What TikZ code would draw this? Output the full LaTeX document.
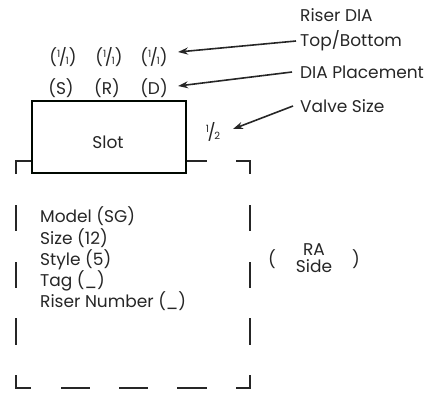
\documentclass[tikz,border=0pt]{standalone}
\usepackage{fontspec}
\setmainfont{Poppins}
\usetikzlibrary{arrows.meta}
\newcommand{\fr}[2]{\raisebox{0.36em}{\fontsize{10}{10}\selectfont #1}\kern-0.08em/\kern-0.08em\raisebox{-0.08em}{\fontsize{10}{10}\selectfont #2}}
\begin{document}
\begin{tikzpicture}[x=1pt,y=-1pt,
  txt/.style={inner sep=0pt,font=\fontsize{17}{19}\selectfont,text=black!85},
  dsh/.style={line width=2pt,draw=black!85},
  arr/.style={line width=1.6pt,draw=black!85,-{Stealth[length=10pt,width=7pt]}},
  box/.style={draw=black!85!green!20!black,line width=2pt,fill=white}]
\useasboundingbox (0,0) rectangle (442,392);
% dashed outline
\draw[dsh] (16,174)--(16,161)--(32,161);
\draw[dsh] (186,161)--(207,161);
\draw[dsh] (236,161)--(250,161)--(250,174);
\foreach \a/\b in {205/231,262/288,318/345}{
  \draw[dsh] (16,\a)--(16,\b);
  \draw[dsh] (250,\a)--(250,\b);}
\draw[dsh] (16,375)--(16,388)--(31,388);
\draw[dsh] (61,388)--(90,388);
\draw[dsh] (119,388)--(148,388);
\draw[dsh] (177,388)--(207,388);
\draw[dsh] (236,388)--(250,388)--(250,375);
% slot
\draw[box] (32,101) rectangle (186,173);
\node[txt] (slot) at (108,142) {Slot};
% top labels
\node[txt] (f1) at (63,57) {(\fr11)};
\node[txt] (f2) at (109,57) {(\fr11)};
\node[txt] (f3) at (154,57) {(\fr11)};
\node[txt] (s) at (61,88) {(S)};
\node[txt] (r) at (107,88) {(R)};
\node[txt] (d) at (154,88) {(D)};
\node[txt] (half) at (213,132) {\fr12};
% right labels
\node[txt,anchor=west] (rd) at (300,15) {Riser DIA};
\node[txt,anchor=west] (tb) at (300,41) {Top/Bottom};
\node[txt,anchor=west] (dp) at (300,72) {DIA Placement};
\node[txt,anchor=west] (vs) at (300,106) {Valve Size};
\coordinate (t1) at (178,52);
\coordinate (t2) at (178,86);
\coordinate (t3) at (233,129);
\draw[arr] ([xshift=-4pt]tb.west) -- (t1);
\draw[arr] ([xshift=-8pt]dp.west) -- (t2);
\draw[arr] ([xshift=-7pt]vs.west) -- (t3);
% inner text
\node[txt,anchor=west,align=left,font=\fontsize{17}{21.2}\selectfont] (info) at (40,259)
  {Model (SG)\\Size (12)\\Style (5)\\Tag (\_)\\Riser Number (\_)};
\node[txt] (lp) at (272,259) {(};
\node[txt,align=center,font=\fontsize{17}{17}\selectfont] (ra) at (314,258) {RA\\Side};
\node[txt] (rp) at (356,259) {)};
\end{tikzpicture}
\end{document}
